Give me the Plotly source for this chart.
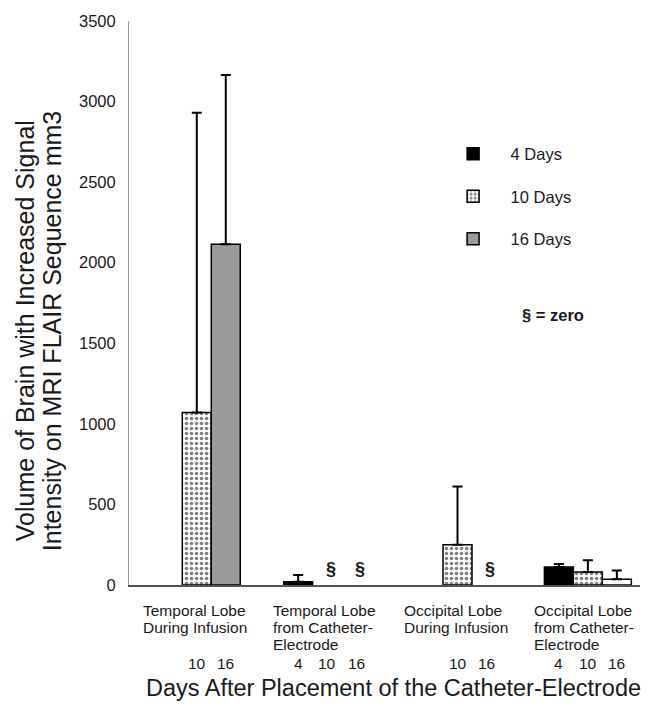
import plotly.graph_objects as go

# ---------------- data ----------------
categories = [
    "Temporal Lobe During Infusion",
    "Temporal Lobe from Catheter-Electrode",
    "Occipital Lobe During Infusion",
    "Occipital Lobe from Catheter-Electrode",
]
category_lines = [
    ["Temporal Lobe", "During Infusion"],
    ["Temporal Lobe", "from Catheter-", "Electrode"],
    ["Occipital Lobe", "During Infusion"],
    ["Occipital Lobe", "from Catheter-", "Electrode"],
]
day_labels = ["4", "10", "16"]
series_names = ["4 Days", "10 Days", "16 Days"]

vol_4 = [None, 20, None, 111]
err_4 = [None, 42, None, 20]
vol_10 = [1070, 0, 250, 80]
err_10 = [1860, 0, 362, 74]
vol_16 = [2115, 0, 0, 35]
err_16 = [1050, 0, 0, 55]

y_ticks = [0, 500, 1000, 1500, 2000, 2500, 3000, 3500]

x_title = "Days After Placement of the Catheter-Electrode"
y_title_lines = ["Volume of Brain with Increased Signal",
                 "Intensity on MRI FLAIR Sequence mm3"]
zero_note = "§ = zero"

# ---------------- styling ----------------
FONT = "Liberation Sans, Arial, Helvetica, sans-serif"
TXT = "#1a1a1a"
GREY = "#9b9b9b"
fill_16 = [GREY, GREY, GREY, "white"]

values = [vol_4, vol_10, vol_16]
errors = [err_4, err_10, err_16]

BARGAP = 0.333
bar_w = (1 - BARGAP) / 3
offsets = [-bar_w, 0.0, bar_w]

fig = go.Figure()


def drawn(vals):
    # zero values are marked with "§" instead of a bar
    return [v if (v is not None and v != 0) else None for v in vals]


def clean_err(vals, errs):
    return [e if (v is not None and v != 0) else None for v, e in zip(vals, errs)]


ebar = dict(type="data", symmetric=False, color="black", thickness=2, width=5)

fig.add_trace(go.Bar(
    x=categories, y=drawn(vol_4), name=series_names[0], legendgroup="a",
    marker=dict(color="black", line=dict(color="black", width=1.5)),
    error_y=dict(array=clean_err(vol_4, err_4), arrayminus=[0] * 4, **ebar),
))
fig.add_trace(go.Bar(
    x=categories, y=drawn(vol_10), name=series_names[1], legendgroup="b",
    marker=dict(color="white", line=dict(color="black", width=1.5),
                pattern=dict(shape=".", fgcolor="black", bgcolor="white",
                             size=5, solidity=0.4)),
    error_y=dict(array=clean_err(vol_10, err_10), arrayminus=[0] * 4, **ebar),
))
fig.add_trace(go.Bar(
    x=categories, y=drawn(vol_16), name=series_names[2], legendgroup="c",
    marker=dict(color=fill_16, line=dict(color="black", width=1.5)),
    error_y=dict(array=clean_err(vol_16, err_16), arrayminus=[0] * 4, **ebar),
))

annotations = []

# category labels (left aligned lines, block centred on category)
line_step = 17
for i, lines in enumerate(category_lines):
    for k, txt in enumerate(lines):
        annotations.append(dict(
            x=i, xref="x", xanchor="left", xshift=-56,
            y=0, yref="paper", yanchor="middle", yshift=-25 - k * line_step,
            text=txt, showarrow=False, align="left",
            font=dict(family=FONT, size=15.5, color=TXT)))

# day numbers under each group (only where a measurement exists)
for i in range(len(categories)):
    for j, vals in enumerate(values):
        if vals[i] is None:
            continue
        annotations.append(dict(
            x=i + offsets[j], xref="x", xanchor="center",
            y=0, yref="paper", yanchor="middle", yshift=-78,
            text=day_labels[j], showarrow=False,
            font=dict(family=FONT, size=15.5, color=TXT)))

# § markers for zero values
for i in range(len(categories)):
    for j, vals in enumerate(values):
        if vals[i] == 0:
            annotations.append(dict(
                x=i + offsets[j], xref="x", xanchor="center", xshift=4,
                y=0, yref="y", yanchor="bottom", yshift=4,
                text="<b>§</b>", showarrow=False,
                font=dict(family=FONT, size=18, color=TXT)))

# x axis title
annotations.append(dict(
    x=0.5, xref="paper", xanchor="center", xshift=9,
    y=0, yref="paper", yanchor="middle", yshift=-103,
    text=x_title, showarrow=False,
    font=dict(family=FONT, size=23.5, color=TXT)))

# y axis title (two lines)
for k, txt in enumerate(y_title_lines):
    annotations.append(dict(
        x=0, xref="paper", xanchor="center", xshift=-104 + k * 27,
        y=0.45, yref="paper", yanchor="middle",
        text=txt, showarrow=False, textangle=-90,
        font=dict(family=FONT, size=25, color=TXT)))

# zero note
annotations.append(dict(
    x=0.83, xref="paper", xanchor="center",
    y=0, yref="paper", yanchor="middle", yshift=270,
    text="<b>" + zero_note + "</b>", showarrow=False,
    font=dict(family=FONT, size=16.5, color=TXT)))

fig.update_layout(
    width=661, height=719,
    margin=dict(l=129, r=21, t=17, b=134, pad=0),
    paper_bgcolor="white", plot_bgcolor="white",
    barmode="group", bargap=BARGAP, bargroupgap=0,
    font=dict(family=FONT, size=16, color=TXT),
    showlegend=True,
    legend=dict(x=0.6, y=0.795, xanchor="left", yanchor="top",
                font=dict(family=FONT, size=16.5, color=TXT),
                tracegroupgap=18, itemwidth=65, bgcolor="rgba(0,0,0,0)"),
    annotations=annotations,
)
fig.update_xaxes(
    type="category", range=[-0.52, 3.40], showticklabels=False,
    showline=True, linecolor="#555555", linewidth=2, ticks="",
    showgrid=False, zeroline=False, fixedrange=True,
)
fig.update_yaxes(
    range=[0, 3500], tickvals=y_ticks, ticktext=[str(v) for v in y_ticks],
    showline=True, linecolor="#999999", linewidth=1, ticks="",
    showgrid=False, zeroline=False, ticklabelstandoff=9,
    tickfont=dict(family=FONT, size=16.5, color=TXT),
)

fig.write_html("out.html")
